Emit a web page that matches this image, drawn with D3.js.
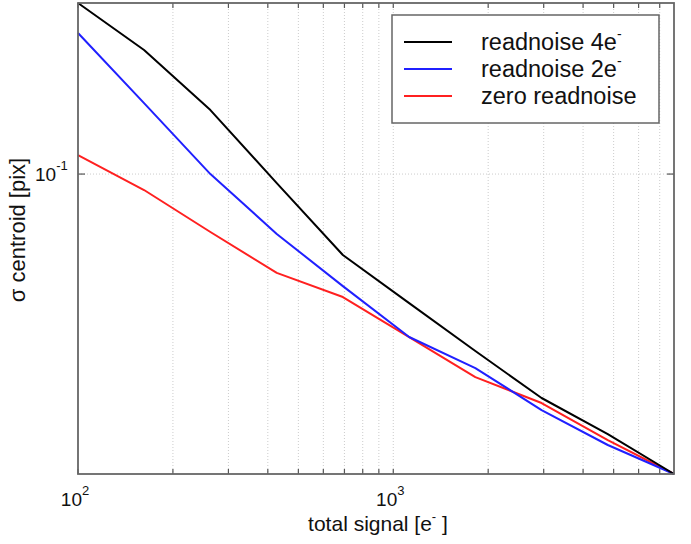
<!DOCTYPE html>
<html><head><meta charset="utf-8">
<script src="https://cdn.jsdelivr.net/npm/d3@7"></script>
<style>
html,body{margin:0;padding:0;background:#fff;}
svg{display:block;font-family:"Liberation Sans",Arial,sans-serif;}
</style></head>
<body><svg id="chart" width="691" height="544"></svg>
<script>
const signal = [100, 162, 263, 427, 692, 1123, 1821, 2954, 4791, 7770];
const readnoise4 = [0.3207, 0.2328, 0.1546, 0.0940, 0.0576, 0.0415, 0.02995, 0.02175, 0.01701, 0.01296];
const readnoise2 = [0.2614, 0.1622, 0.1000, 0.0665, 0.0466, 0.03295, 0.02667, 0.02003, 0.01579, 0.01296];
const readnoise0 = [0.1138, 0.0897, 0.0674, 0.0510, 0.04326, 0.03295, 0.02508, 0.02102, 0.01633, 0.01296];
const seriesNames = ["readnoise 4e", "readnoise 2e", "zero readnoise"];
const seriesSup = ["-", "-", ""];
const seriesColors = ["#000000", "#2020ff", "#ff2020"];
const xGrid = [200,300,400,500,600,700,800,900,1000,2000,3000,4000,5000,6000,7000];
const xTickLabels = [{v:100, base:"10", exp:"2"}, {v:1000, base:"10", exp:"3"}];
const yTickLabels = [{v:0.1, base:"10", exp:"-1"}];
const xLabel = "total signal [e";
const yLabel = "σ centroid [pix]";

const svg = d3.select("#chart");
const L = 78, R = 674, T = 3, B = 474;
const x = d3.scaleLog().domain([100, 7770]).range([L, R]);
const y = d3.scaleLog().domain([0.01296, 0.3207]).range([B, T]);

// grid
const g = svg.append("g");
g.selectAll(".vg").data(xGrid).enter().append("line")
  .attr("x1", d => x(d)).attr("x2", d => x(d)).attr("y1", T).attr("y2", B)
  .attr("stroke", "#cccccc").attr("stroke-width", 1).attr("stroke-dasharray", "1,2");
g.selectAll(".hg").data(yTickLabels).enter().append("line")
  .attr("x1", L).attr("x2", R).attr("y1", d => y(d.v)).attr("y2", d => y(d.v))
  .attr("stroke", "#cccccc").attr("stroke-width", 1).attr("stroke-dasharray", "1,2");

// ticks inward
const tk = 5;
xGrid.concat([100]).forEach(v => {
  g.append("line").attr("x1", x(v)).attr("x2", x(v)).attr("y1", B).attr("y2", B - tk).attr("stroke", "#555").attr("stroke-width", 1.2);
  g.append("line").attr("x1", x(v)).attr("x2", x(v)).attr("y1", T).attr("y2", T + tk).attr("stroke", "#555").attr("stroke-width", 1.2);
});
yTickLabels.forEach(t => {
  g.append("line").attr("x1", L).attr("x2", L + 7).attr("y1", y(t.v)).attr("y2", y(t.v)).attr("stroke", "#555").attr("stroke-width", 1.2);
  g.append("line").attr("x1", R).attr("x2", R - 7).attr("y1", y(t.v)).attr("y2", y(t.v)).attr("stroke", "#555").attr("stroke-width", 1.2);
});

// lines
const allSeries = [readnoise4, readnoise2, readnoise0];
const line = d3.line().x((d, i) => x(signal[i])).y(d => y(d));
[2, 1, 0].forEach(k => {
  svg.append("path").datum(allSeries[k]).attr("d", line)
    .attr("fill", "none").attr("stroke", seriesColors[k]).attr("stroke-width", 2)
    .attr("stroke-linejoin", "round");
});

// frame
svg.append("rect").attr("x", L).attr("y", T).attr("width", R - L).attr("height", B - T)
  .attr("fill", "none").attr("stroke", "#666").attr("stroke-width", 1.8);

// tick labels
xTickLabels.forEach(t => {
  const tx = svg.append("text").attr("x", x(t.v) - 3).attr("y", 506).attr("text-anchor", "middle")
    .attr("font-size", 19).attr("fill", "#111");
  tx.append("tspan").text(t.base);
  tx.append("tspan").attr("dy", -11).attr("font-size", 13).text(t.exp);
});
yTickLabels.forEach(t => {
  const tx = svg.append("text").attr("x", 35).attr("y", y(t.v) + 7).attr("text-anchor", "start")
    .attr("font-size", 19).attr("fill", "#111");
  tx.append("tspan").text(t.base);
  tx.append("tspan").attr("dy", -11).attr("font-size", 13).text(t.exp);
});

// axis labels
const xl = svg.append("text").attr("x", 378).attr("y", 531).attr("text-anchor", "middle")
  .attr("font-size", 21).attr("fill", "#111");
xl.append("tspan").text(xLabel);
xl.append("tspan").attr("dy", -10).attr("font-size", 13).text("-");
xl.append("tspan").attr("dy", 10).text(" ]");
svg.append("text").attr("transform", "translate(25,230) rotate(-90)").attr("text-anchor", "middle")
  .attr("font-size", 22).attr("fill", "#111").text(yLabel);

// legend
const lg = svg.append("g");
lg.append("rect").attr("x", 392).attr("y", 15).attr("width", 267).attr("height", 108)
  .attr("fill", "#fff").attr("stroke", "#666").attr("stroke-width", 1.5);
const ly = [42, 69, 96];
seriesNames.forEach((n, i) => {
  lg.append("line").attr("x1", 404).attr("x2", 452).attr("y1", ly[i]).attr("y2", ly[i])
    .attr("stroke", seriesColors[i]).attr("stroke-width", 2);
  const t = lg.append("text").attr("x", 481).attr("y", ly[i] + 8).attr("font-size", 23.5).attr("fill", "#111");
  t.append("tspan").text(n);
  if (seriesSup[i]) t.append("tspan").attr("dy", -11).attr("font-size", 14).text(seriesSup[i]);
});
</script></body></html>
